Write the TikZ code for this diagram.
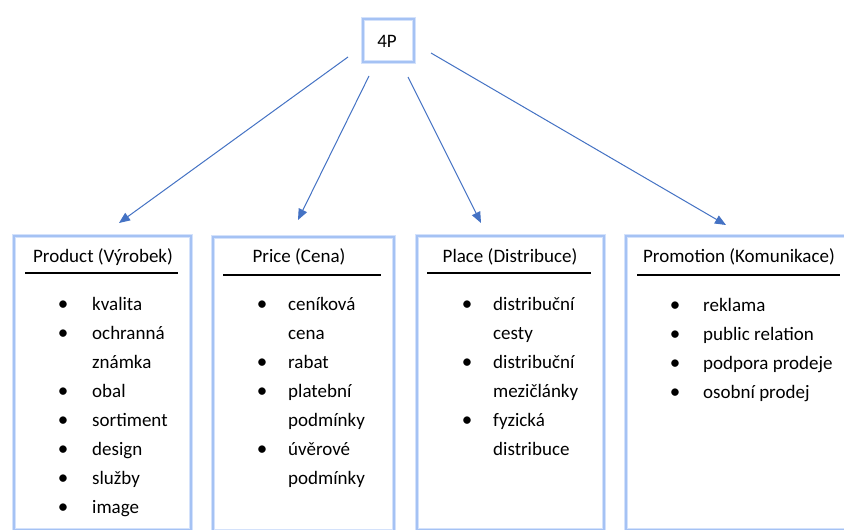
\documentclass[tikz,border=0pt]{standalone}
\usepackage{fontspec}
\setmainfont{Carlito}
\usetikzlibrary{arrows.meta}
\definecolor{boxblue}{RGB}{165,194,244}
\definecolor{glow}{RGB}{212,226,251}
\definecolor{arrowblue}{RGB}{68,114,196}
\begin{document}
\begin{tikzpicture}[x=1pt,y=-1pt,
  box/.style={draw=boxblue, line width=2.2pt, preaction={draw=glow, line width=3.8pt}, inner sep=0pt, anchor=north west},
  txt/.style={font=\fontsize{19}{23}\selectfont, inner sep=0pt, anchor=base west},
  bul/.style={font=\fontsize{21}{23}\selectfont, inner sep=0pt, anchor=base},
  ttl/.style={font=\fontsize{19}{23}\selectfont, inner sep=0pt, anchor=base},
  uline/.style={draw=black, line width=1.4pt},
  arr/.style={draw=arrowblue, line width=1pt, -{Triangle[length=11pt,width=9pt]}}]
\clip (0,0) rectangle (844,530);
\fill[white] (0,0) rectangle (844,530);

% top node
\node[box, minimum width=51pt, minimum height=43pt] (top) at (362,18) {};
\node[ttl] (toptxt) at (387,47) {4P};

% boxes
\node[box, minimum width=177pt, minimum height=294pt] (prod) at (13,235) {};
\node[box, minimum width=181pt, minimum height=294pt] (price) at (212,236) {};
\node[box, minimum width=187pt, minimum height=294pt] (place) at (416,235) {};
\node[box, minimum width=230pt, minimum height=294pt] (promo) at (625,235) {};

% titles
\node[ttl] (t1) at (103,262) {Product (Výrobek)};
\node[ttl] (t2) at (299,262) {Price (Cena)};
\node[ttl] (t3) at (510,262) {Place (Distribuce)};
\node[ttl] (t4) at (739,262) {Promotion (Komunikace)};

% underlines
\coordinate (u1a) at (25,273); \coordinate (u1b) at (178,273);
\coordinate (u2a) at (223,275); \coordinate (u2b) at (381,275);
\coordinate (u3a) at (427,273); \coordinate (u3b) at (591,273);
\coordinate (u4a) at (637,275); \coordinate (u4b) at (840,275);
\draw[uline] (u1a) -- (u1b);
\draw[uline] (u2a) -- (u2b);
\draw[uline] (u3a) -- (u3b);
\draw[uline] (u4a) -- (u4b);

% Product items
\node[bul] (pb1) at (63,310) {\textbullet};
\node[txt] (pi1) at (92,310) {kvalita};
\node[bul] (pb2) at (63,339) {\textbullet};
\node[txt] (pi2) at (92,339) {ochranná};
\node[txt] (pi2b) at (92,368) {známka};
\node[bul] (pb3) at (63,397) {\textbullet};
\node[txt] (pi3) at (92,397) {obal};
\node[bul] (pb4) at (63,426) {\textbullet};
\node[txt] (pi4) at (92,426) {sortiment};
\node[bul] (pb5) at (63,455) {\textbullet};
\node[txt] (pi5) at (92,455) {design};
\node[bul] (pb6) at (63,484) {\textbullet};
\node[txt] (pi6) at (92,484) {služby};
\node[bul] (pb7) at (63,513) {\textbullet};
\node[txt] (pi7) at (92,513) {image};

% Price items
\node[bul] (cb1) at (262,310) {\textbullet};
\node[txt] (ci1) at (288,310) {ceníková};
\node[txt] (ci1b) at (288,339) {cena};
\node[bul] (cb2) at (262,368) {\textbullet};
\node[txt] (ci2) at (288,368) {rabat};
\node[bul] (cb3) at (262,397) {\textbullet};
\node[txt] (ci3) at (288,397) {platební};
\node[txt] (ci3b) at (288,426) {podmínky};
\node[bul] (cb4) at (262,455) {\textbullet};
\node[txt] (ci4) at (288,455) {úvěrové};
\node[txt] (ci4b) at (288,484) {podmínky};

% Place items
\node[bul] (lb1) at (467,310) {\textbullet};
\node[txt] (li1) at (493,310) {distribuční};
\node[txt] (li1b) at (493,339) {cesty};
\node[bul] (lb2) at (467,368) {\textbullet};
\node[txt] (li2) at (493,368) {distribuční};
\node[txt] (li2b) at (493,397) {mezičlánky};
\node[bul] (lb3) at (467,426) {\textbullet};
\node[txt] (li3) at (493,426) {fyzická};
\node[txt] (li3b) at (493,455) {distribuce};

% Promotion items
\node[bul] (mb1) at (675,311) {\textbullet};
\node[txt] (mi1) at (703,311) {reklama};
\node[bul] (mb2) at (675,340) {\textbullet};
\node[txt] (mi2) at (703,340) {public relation};
\node[bul] (mb3) at (675,369) {\textbullet};
\node[txt] (mi3) at (703,369) {podpora prodeje};
\node[bul] (mb4) at (675,398) {\textbullet};
\node[txt] (mi4) at (703,398) {osobní prodej};

% arrows
\coordinate (s1) at (348,57);  \coordinate (e1) at (119,223);
\coordinate (s2) at (369,76);  \coordinate (e2) at (298,220);
\coordinate (s3) at (408,77);  \coordinate (e3) at (481,223);
\coordinate (s4) at (431,53);  \coordinate (e4) at (726,225);
\draw[arr] (s1) -- (e1);
\draw[arr] (s2) -- (e2);
\draw[arr] (s3) -- (e3);
\draw[arr] (s4) -- (e4);
\end{tikzpicture}
\end{document}
